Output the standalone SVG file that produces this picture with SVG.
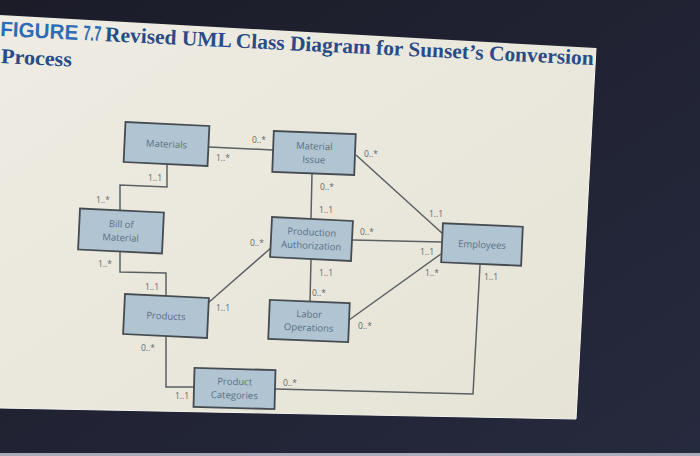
<svg xmlns="http://www.w3.org/2000/svg" width="700" height="456" viewBox="0 0 700 456">
<defs>
<linearGradient id="bg" x1="0" y1="0" x2="1" y2="1">
<stop offset="0" stop-color="#1b1c28"/>
<stop offset="1" stop-color="#262a3e"/>
</linearGradient>
<linearGradient id="page" x1="0" y1="0" x2="1" y2="1">
<stop offset="0" stop-color="#eeece3"/>
<stop offset="1" stop-color="#e6e3d6"/>
</linearGradient>
<style>
.box{fill:#b0c4d2;stroke:#454b50;stroke-width:1.8}
.nt{font-family:"Open Sans","Liberation Sans",sans-serif;font-size:9.5px;fill:#587084;text-anchor:middle}
.ln{fill:none;stroke:#5b6064;stroke-width:1.5}
.lb{font-family:"Open Sans","Liberation Sans",sans-serif;font-size:8.5px;fill:#62676a;text-anchor:middle}
.t1{font-family:"Liberation Sans",Arial,sans-serif;font-weight:bold;font-size:21px;fill:#306cb6}
.t2{font-family:"Liberation Serif","Times New Roman",serif;font-weight:bold;font-size:21px;fill:#294b86}
</style>
</defs>
<rect width="700" height="456" fill="url(#bg)"/>
<rect x="0" y="453" width="700" height="3" fill="#a9acb8"/>
<polygon points="0,15 596,48 576,419 0,408" fill="url(#page)"/>
<polyline points="0,408 576,419 596,48" fill="none" stroke="#f6f5ef" stroke-width="1"/>

<g id="title" transform="rotate(2.8 0 36)">
<text class="t1" x="0" y="36" textLength="78" lengthAdjust="spacingAndGlyphs">FIGURE</text>
<text class="t1" x="83" y="36" textLength="18" lengthAdjust="spacingAndGlyphs">7.7</text>
<text class="t2" x="105" y="36" textLength="489" lengthAdjust="spacingAndGlyphs">Revised UML Class Diagram for Sunset’s Conversion</text>
<text class="t2" x="2" y="63" textLength="71" lengthAdjust="spacingAndGlyphs">Process</text>
</g>

<g id="connectors">
<polyline class="ln" points="209,147 273,150"/>
<polyline class="ln" points="167,165 167,187 120,185 120,210"/>
<polyline class="ln" points="120,252 120,272 166,273 166,296"/>
<polyline class="ln" points="208,303 272,247"/>
<polyline class="ln" points="312,174 311,218"/>
<polyline class="ln" points="356,155 443,234"/>
<polyline class="ln" points="352,240 442,242"/>
<polyline class="ln" points="311,260 310,301"/>
<polyline class="ln" points="349,320 441,254"/>
<polyline class="ln" points="166,337 166,387 194,387"/>
<polyline class="ln" points="275,389 473,394 480,265"/>
<text class="lb" x="259" y="143">0..*</text>
<text class="lb" x="223" y="161">1..*</text>
<text class="lb" x="155" y="181">1..1</text>
<text class="lb" x="103" y="203">1..*</text>
<text class="lb" x="105" y="267">1..*</text>
<text class="lb" x="152" y="290">1..1</text>
<text class="lb" x="223" y="311">1..1</text>
<text class="lb" x="257" y="246">0..*</text>
<text class="lb" x="327" y="190">0..*</text>
<text class="lb" x="326" y="213">1..1</text>
<text class="lb" x="371" y="157">0..*</text>
<text class="lb" x="436" y="217">1..1</text>
<text class="lb" x="367" y="235">0..*</text>
<text class="lb" x="427" y="255">1..1</text>
<text class="lb" x="326" y="276">1..1</text>
<text class="lb" x="319" y="296">0..*</text>
<text class="lb" x="365" y="329">0..*</text>
<text class="lb" x="432" y="276">1..*</text>
<text class="lb" x="148" y="351">0..*</text>
<text class="lb" x="182" y="399">1..1</text>
<text class="lb" x="290" y="386">0..*</text>
<text class="lb" x="491" y="280">1..1</text>
</g>

<g id="materials" transform="rotate(2.7 166.5 144)">
<rect class="box" x="124.5" y="124" width="84" height="40"/>
<text class="nt" x="166.5" y="147.4">Materials</text>
</g>
<g id="material-issue" transform="rotate(2.2 314 153)">
<rect class="box" x="273" y="132.5" width="82" height="41"/>
<text class="nt" x="314" y="149.5">Material</text>
<text class="nt" x="314" y="163">Issue</text>
</g>
<g id="production-authorization" transform="rotate(2.8 311.5 239)">
<rect class="box" x="271" y="219" width="81" height="40"/>
<text class="nt" x="311.5" y="235.5">Production</text>
<text class="nt" x="311.5" y="249">Authorization</text>
</g>
<g id="employees" transform="rotate(2.5 482 244.5)">
<rect class="box" x="442" y="225" width="80" height="39"/>
<text class="nt" x="482" y="248">Employees</text>
</g>
<g id="bill-of-material" transform="rotate(2.7 121 231)">
<rect class="box" x="79" y="210.5" width="84" height="41"/>
<text class="nt" x="121" y="227.5">Bill of</text>
<text class="nt" x="121" y="241">Material</text>
</g>
<g id="products" transform="rotate(2.7 166 316)">
<rect class="box" x="124" y="296" width="84" height="40"/>
<text class="nt" x="166" y="319.4">Products</text>
</g>
<g id="labor-operations" transform="rotate(2.3 309 321)">
<rect class="box" x="269" y="301.5" width="80" height="39"/>
<text class="nt" x="309" y="317.5">Labor</text>
<text class="nt" x="309" y="331">Operations</text>
</g>
<g id="product-categories" transform="rotate(1.5 234.5 388.5)">
<rect class="box" x="194" y="369" width="81" height="39"/>
<text class="nt" x="234.5" y="385">Product</text>
<text class="nt" x="234.5" y="398.5">Categories</text>
</g>
</svg>
